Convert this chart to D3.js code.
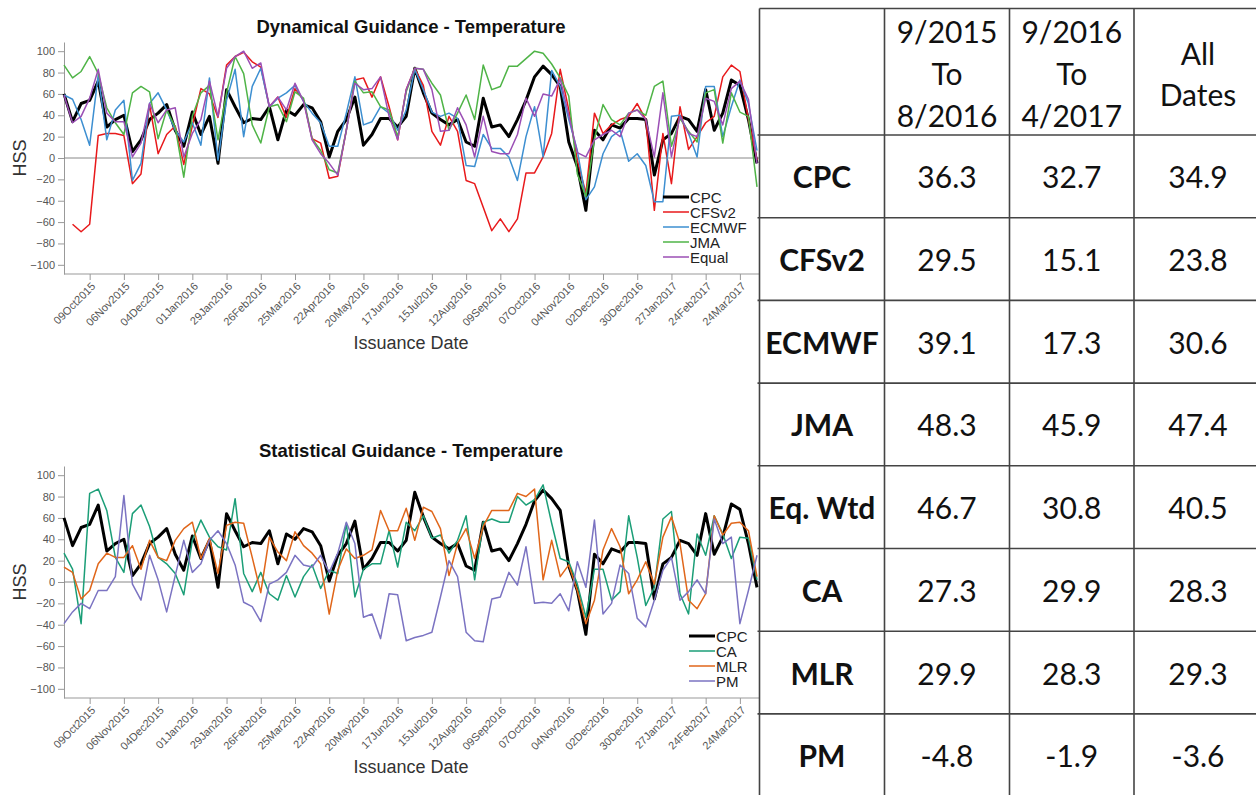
<!DOCTYPE html>
<html>
<head>
<meta charset="utf-8">
<script src="https://d3js.org/d3.v7.min.js"></script>
<style>
  body { margin: 0; background: #fff; }
  .chart text { font-family: "Liberation Sans", Arial, sans-serif; }
  .tbl text { font-family: Lato, "Open Sans", sans-serif; fill: #111; }
</style>
</head>
<body>
<svg id="fig" width="1256" height="795"></svg>
<script>
// weekly issuance dates start here
var startDate = "18Sep2015";
var nWeeks = 82;
var tickLabels = ["09Oct2015","06Nov2015","04Dec2015","01Jan2016","29Jan2016","26Feb2016","25Mar2016",
  "22Apr2016","20May2016","17Jun2016","15Jul2016","12Aug2016","09Sep2016","07Oct2016","04Nov2016",
  "02Dec2016","30Dec2016","27Jan2017","24Feb2017","24Mar2017"];
var yTicks = [100, 80, 60, 40, 20, 0, -20, -40, -60, -80, -100];

// HSS values, one per week
var cpc = [60,34,51,54,72,29,36,40,6,17,36,42,50,26,11,43,22,39,-5,64,48,33,37,36,48,17,45,40,
  50,47,34,1,25,36,57,12,22,37,37,29,39,84,61,42,36,31,36,15,11,56,29,31,20,36,54,76,
  86,78,67,15,-8,-49,26,17,31,28,37,37,36,-16,17,23,39,36,25,64,26,42,73,68,36,-5];
var cfsv2 = [null,-62,-69,-62,21,23,23,21,-24,-15,50,4,22,30,-6,30,65,60,38,87,95,99,90,85,48,57,38,65,
  54,18,14,-19,-17,26,73,75,57,76,48,17,64,84,68,25,12,39,25,-21,-24,-46,-68,-57,-69,-57,-14,-14,
  1,23,83,45,-2,-33,42,23,31,36,39,51,36,-49,23,-24,48,8,20,33,39,76,87,81,36,-2];
var ecmwf = [59,55,36,12,78,17,45,54,-21,-5,51,61,45,26,15,33,12,75,-2,54,83,20,67,84,48,56,61,68,
  53,42,33,11,11,42,76,31,34,48,42,26,45,83,64,43,39,42,37,-7,-8,22,9,9,1,-21,20,48,
  1,82,67,36,7,-39,-27,4,20,26,-3,4,-7,-41,-41,39,40,23,1,67,67,20,48,73,51,7];
var jma = [87,75,81,95,79,47,33,22,61,67,62,18,45,29,-18,39,61,68,17,61,95,79,31,14,48,50,34,62,
  56,18,7,-11,-14,26,72,61,62,48,45,20,62,84,83,70,59,26,42,59,36,87,64,67,86,86,93,100,
  98,88,75,58,-15,-36,18,50,36,31,42,45,40,67,72,11,37,25,15,61,64,14,61,43,39,-27];
var equal = [59,33,39,56,83,42,34,34,1,14,51,33,45,47,1,23,36,72,39,84,95,100,84,89,48,57,45,70,
  53,17,4,-5,-16,26,70,64,65,76,39,17,64,84,83,64,25,26,47,31,1,39,6,4,4,22,56,39,
  60,58,74,40,5,1,17,22,26,20,42,45,36,1,61,1,39,23,20,56,53,31,65,72,55,-5];
var ca = [27,12,-39,83,87,67,23,9,64,72,52,23,17,8,-12,39,58,42,33,30,78,8,-9,9,-11,-17,6,-14,
  5,16,-6,11,8,55,-14,12,17,17,48,14,56,48,62,41,44,27,39,62,2,56,59,56,56,80,72,77,
  91,55,22,19,-2,-33,12,12,-17,-9,62,23,-22,-5,59,66,-11,-30,45,25,62,45,22,42,41,2];
var mlr = [14,9,-16,-8,17,27,23,23,34,12,39,23,20,39,50,56,22,41,8,53,56,55,23,-10,42,28,20,47,
  34,27,17,-30,11,31,22,25,30,67,48,48,69,39,70,66,50,6,36,50,22,52,67,67,67,83,80,87,
  2,39,5,16,-8,-39,-17,30,50,33,-11,2,19,-2,42,61,36,-17,-25,-11,62,44,55,56,48,5];
var pm = [-39,-28,-20,-25,-8,-8,5,81,-2,-17,25,2,-28,6,39,9,17,39,48,36,16,-19,-23,-37,-2,2,9,25,
  16,14,25,9,27,56,36,-33,-30,-53,-11,-12,-55,-52,-50,-47,-14,20,5,-47,-55,-56,-16,-14,9,-3,33,-20,
  -19,-20,-11,-27,19,-5,58,-30,-20,16,8,-34,-42,-17,11,23,-17,-9,2,-11,59,36,42,-39,-8,25];

// table
var colHeads = [["9/2015", "To", "8/2016"], ["9/2016", "To", "4/2017"], ["All", "Dates"]];
var rowNames = ["CPC", "CFSv2", "ECMWF", "JMA", "Eq. Wtd", "CA", "MLR", "PM"];
var hssFirstYear = [36.3, 29.5, 39.1, 48.3, 46.7, 27.3, 29.9, -4.8];
var hssSecondYear = [32.7, 15.1, 17.3, 45.9, 30.8, 29.9, 28.3, -1.9];
var hssAllDates = [34.9, 23.8, 30.6, 47.4, 40.5, 28.3, 29.3, -3.6];

var parse = d3.timeParse("%d%b%Y");
var t0 = parse(startDate);
var dates = d3.range(nWeeks).map(function(i) { return d3.timeDay.offset(t0, 7 * i); });
var tickDates = tickLabels.map(parse);

var svg = d3.select("#fig");

var x = d3.scaleTime().domain([dates[0], dates[nWeeks - 1]]).range([64, 757]);
var plotRight = 760;

function panel(top, title, series) {
  var g = svg.append("g").attr("class", "chart").attr("transform", "translate(0," + top + ")");
  var y = d3.scaleLinear().domain([-108.6, 108.6]).range([274, 42]);

  g.append("text").attr("x", 411).attr("y", 33).attr("text-anchor", "middle")
    .style("font-size", "18.5px").style("font-weight", "bold").attr("fill", "#111").text(title);

  var ya = g.append("g").attr("transform", "translate(64,0)")
    .call(d3.axisLeft(y).tickValues(yTicks).tickSize(6).tickSizeOuter(0).tickPadding(3));
  ya.select(".domain").attr("stroke", "#999");
  ya.selectAll(".tick line").attr("stroke", "#999");
  ya.selectAll(".tick text").attr("fill", "#555").style("font-size", "11px")
    .style("font-family", '"Liberation Sans", Arial, sans-serif');

  var xa = g.append("g").attr("transform", "translate(0,274)")
    .call(d3.axisBottom(x).tickValues(tickDates).tickFormat(d3.timeFormat("%d%b%Y"))
      .tickSize(6).tickSizeOuter(0));
  xa.select(".domain").attr("d", "M64,0H" + plotRight).attr("stroke", "#999");
  xa.selectAll(".tick line").attr("stroke", "#999");
  xa.selectAll(".tick text").attr("fill", "#555").style("font-size", "11px")
    .style("font-family", '"Liberation Sans", Arial, sans-serif')
    .attr("text-anchor", "end").attr("x", 0).attr("y", 0).attr("dy", 0)
    .attr("transform", "translate(6,13) rotate(-45)");

  g.append("line").attr("x1", 64).attr("x2", plotRight).attr("y1", y(0)).attr("y2", y(0))
    .attr("stroke", "#888").attr("stroke-width", 1);

  g.append("text").attr("x", 411).attr("y", 349).attr("text-anchor", "middle")
    .style("font-size", "18px").attr("fill", "#333").text("Issuance Date");
  g.append("text").attr("transform", "translate(26," + y(0) + ") rotate(-90)")
    .attr("text-anchor", "middle").style("font-size", "18px").attr("fill", "#333").text("HSS");

  var line = d3.line()
    .defined(function(d) { return d != null; })
    .x(function(d, i) { return x(dates[i]); })
    .y(function(d) { return y(d); });

  series.forEach(function(s) {
    g.append("path").attr("d", line(s.values)).attr("fill", "none")
      .attr("stroke", s.color).attr("stroke-width", s.width)
      .attr("stroke-linejoin", "round");
  });

  // legend
  var lg = g.append("g").attr("transform", "translate(" + series.legendX + "," + series.legendY + ")");
  var order = series.slice().sort(function(a, b) { return a.rank - b.rank; });
  order.forEach(function(s, i) {
    lg.append("line").attr("x1", 0).attr("x2", 26).attr("y1", i * 15).attr("y2", i * 15)
      .attr("stroke", s.color).attr("stroke-width", s.width);
    lg.append("text").attr("x", 27).attr("y", i * 15 + 5.5).style("font-size", "15px")
      .attr("fill", "#222").text(s.name);
  });
}

var dyn = [
  { name: "CPC", values: cpc, color: "#000", width: 3, rank: 0 },
  { name: "CFSv2", values: cfsv2, color: "#e8191b", width: 1.5, rank: 1 },
  { name: "ECMWF", values: ecmwf, color: "#3d8fd1", width: 1.5, rank: 2 },
  { name: "JMA", values: jma, color: "#4fb447", width: 1.5, rank: 3 },
  { name: "Equal", values: equal, color: "#9b4fb5", width: 1.5, rank: 4 }
];
dyn.legendX = 663; dyn.legendY = 197;

var stat = [
  { name: "CPC", values: cpc, color: "#000", width: 3, rank: 0 },
  { name: "CA", values: ca, color: "#1b9e77", width: 1.5, rank: 1 },
  { name: "MLR", values: mlr, color: "#e0661a", width: 1.5, rank: 2 },
  { name: "PM", values: pm, color: "#7b73c2", width: 1.5, rank: 3 }
];
stat.legendX = 689; stat.legendY = 212;

panel(0, "Dynamical Guidance - Temperature", dyn);
panel(424, "Statistical Guidance - Temperature", stat);

// table on the right
var colX = [759.5, 884.5, 1009.5, 1134, 1262];
var headTop = 8.5, headBottom = 135, rowH = 82.7;
var tb = svg.append("g").attr("class", "tbl");
var tblBottom = headBottom + rowH * rowNames.length;

tb.append("line").attr("x1", colX[0]).attr("x2", 1256).attr("y1", headTop).attr("y2", headTop)
  .attr("stroke", "#444").attr("stroke-width", 1.6);
d3.range(rowNames.length).forEach(function(r) {
  var yy = headBottom + r * rowH;
  tb.append("line").attr("x1", colX[0] - 2).attr("x2", 1256).attr("y1", yy).attr("y2", yy)
    .attr("stroke", "#444").attr("stroke-width", 1.6);
});
colX.slice(0, 4).forEach(function(cx) {
  tb.append("line").attr("x1", cx).attr("x2", cx).attr("y1", headTop).attr("y2", tblBottom)
    .attr("stroke", "#444").attr("stroke-width", 1.6);
});

colHeads.forEach(function(lines, c) {
  var cx = (colX[c + 1] + colX[c + 2]) / 2;
  var base = lines.length === 3 ? [43, 85, 127] : [65, 106];
  lines.forEach(function(t, k) {
    tb.append("text").attr("x", cx).attr("y", base[k]).attr("text-anchor", "middle")
      .style("font-size", "30px").text(t);
  });
});

var cols = [hssFirstYear, hssSecondYear, hssAllDates];
rowNames.forEach(function(name, r) {
  var cy = headBottom + r * rowH + rowH / 2 + 12;
  tb.append("text").attr("x", (colX[0] + colX[1]) / 2).attr("y", cy).attr("text-anchor", "middle")
    .style("font-size", "30px").style("font-weight", "bold").text(name);
  cols.forEach(function(vals, c) {
    tb.append("text").attr("x", (colX[c + 1] + colX[c + 2]) / 2).attr("y", cy)
      .attr("text-anchor", "middle").style("font-size", "30px").text(vals[r].toFixed(1));
  });
});
</script>
</body>
</html>
